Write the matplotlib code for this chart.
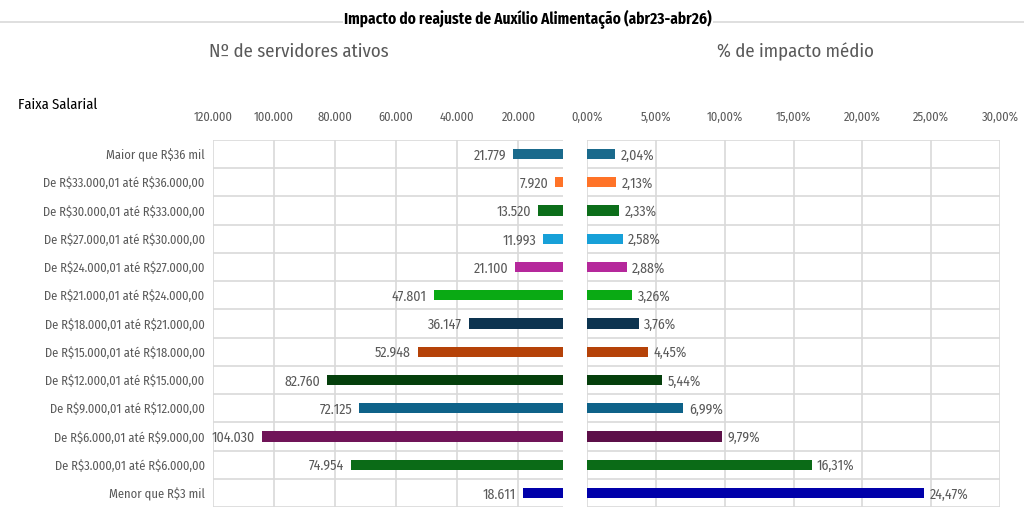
import matplotlib
matplotlib.use("Agg")
import matplotlib.pyplot as plt
from matplotlib.ticker import FuncFormatter, MultipleLocator

plt.rcParams['font.family'] = ['Fira Sans Condensed', 'DejaVu Sans']
plt.rcParams['text.parse_math'] = False

categories = [
    "Maior que R$36 mil",
    "De R$33.000,01 até R$36.000,00",
    "De R$30.000,01 até R$33.000,00",
    "De R$27.000,01 até R$30.000,00",
    "De R$24.000,01 até R$27.000,00",
    "De R$21.000,01 até R$24.000,00",
    "De R$18.000,01 até R$21.000,00",
    "De R$15.000,01 até R$18.000,00",
    "De R$12.000,01 até R$15.000,00",
    "De R$9.000,01 até R$12.000,00",
    "De R$6.000,01 até R$9.000,00",
    "De R$3.000,01 até R$6.000,00",
    "Menor que R$3 mil",
]
servidores = [21779, 7920, 13520, 11993, 21100, 47801, 36147, 52948, 82760, 72125, 104030, 74954, 18611]
impacto = [2.04, 2.13, 2.33, 2.58, 2.88, 3.26, 3.76, 4.45, 5.44, 6.99, 9.79, 16.31, 24.47]

colors_left = ["#1A6A8C", "#FF7328", "#0C6E1A", "#17A0D8", "#B5289B", "#0AAA14", "#0D3450",
               "#B54208", "#053F0C", "#0E6289", "#701458", "#0B6B17", "#0000AA"]
colors_right = ["#1A6A8C", "#FF7328", "#0C6E1A", "#17A0D8", "#B5289B", "#0AAA14", "#0D3450",
                "#B54208", "#053F0C", "#0E6289", "#5C0F48", "#0B6B17", "#0000AA"]

title = "Impacto do reajuste de Auxílio Alimentação (abr23-abr26)"
sub_left = "Nº de servidores ativos"
sub_right = "% de impacto médio"
ylabel = "Faixa Salarial"

GRID = "#d9d9d9"
TXT = "#595959"

fig = plt.figure(figsize=(10.24, 5.30), dpi=100)
axL = fig.add_axes([213/1024, 1-507/530, (563-213)/1024, (507-140)/530])
axR = fig.add_axes([587/1024, 1-507/530, (1000-587)/1024, (507-140)/530])

n = len(categories)
ypos = list(range(n))

def fmt_thousands(v, p=None):
    return f"{int(round(v)):,}".replace(",", ".")

def fmt_pct(v, p=None):
    return f"{v:.2f}%".replace(".", ",")

for ax in (axL, axR):
    ax.set_ylim(n - 0.5, -0.5)
    for s in ax.spines.values():
        s.set_visible(False)
    ax.xaxis.tick_top()
    ax.tick_params(axis='x', length=0, labelsize=9, labelcolor=TXT, pad=12)
    ax.tick_params(axis='y', length=0)
    ax.grid(axis='x', color=GRID, linewidth=1.2)
    ax.set_axisbelow(True)
    for b in range(n + 1):
        ax.axhline(b - 0.5, color=GRID, linewidth=1.2, zorder=0)

# Left panel
axL.barh(ypos, servidores, height=0.36, color=colors_left)
axL.set_xlim(120000, 5400)
axL.xaxis.set_major_locator(MultipleLocator(20000))
axL.xaxis.set_major_formatter(FuncFormatter(fmt_thousands))
axL.set_yticks(ypos)
axL.set_yticklabels(categories, fontsize=9, color=TXT)
axL.tick_params(axis='y', pad=6)
for lab in axL.get_yticklabels():
    lab.set_verticalalignment('center_baseline')
for y, v in zip(ypos, servidores):
    axL.annotate(fmt_thousands(v), xy=(v, y), xytext=(-5, 0), textcoords='offset points',
                 ha='right', va='center_baseline', fontsize=10, color=TXT)

# Right panel
axR.barh(ypos, impacto, height=0.36, color=colors_right)
axR.set_xlim(0, 30)
axR.xaxis.set_major_locator(MultipleLocator(5))
axR.xaxis.set_major_formatter(FuncFormatter(fmt_pct))
axR.set_yticks([])
for y, v in zip(ypos, impacto):
    axR.annotate(fmt_pct(v), xy=(v, y), xytext=(4, 0), textcoords='offset points',
                 ha='left', va='center_baseline', fontsize=10, color=TXT)

# Titles
fig.add_artist(plt.Line2D([0, 1], [1-22/530, 1-22/530], color=GRID, linewidth=1.2))
fig.text(528/1024, 1-19/530, title, ha='center', va='center', fontsize=11, fontweight='bold',
         color='black', bbox=dict(facecolor='white', edgecolor='none', pad=1))
fig.text(299/1024, 1-52/530, sub_left, ha='center', va='center', fontsize=13.5,
         fontweight='normal', color=TXT)
fig.text(795/1024, 1-52/530, sub_right, ha='center', va='center', fontsize=13.5,
         fontweight='normal', color=TXT)
fig.text(18/1024, 1-105/530, ylabel, ha='left', va='center', fontsize=10.5, color='black')

fig.savefig("out.png", dpi=100, facecolor='white')
